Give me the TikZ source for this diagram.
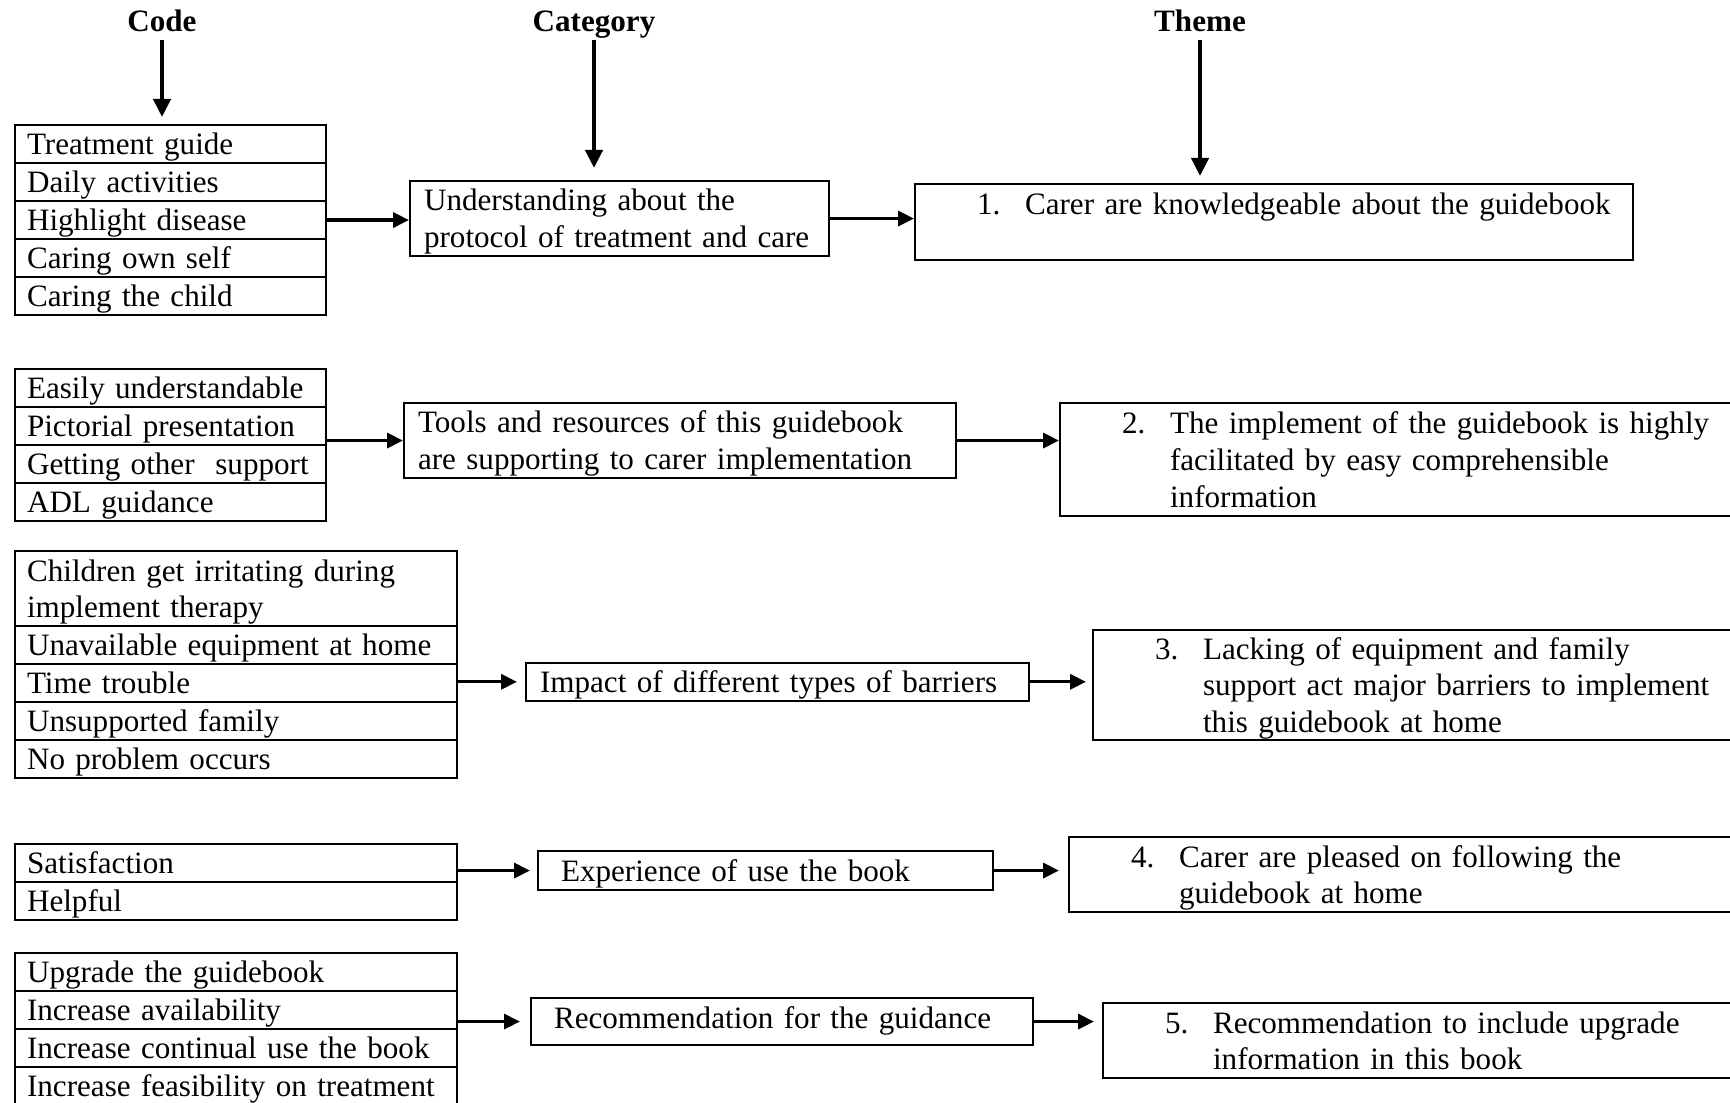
\documentclass[tikz,border=0pt]{standalone}
\usepackage{fontspec}
\setmainfont{Liberation Serif}
\usetikzlibrary{arrows.meta}

\newcommand{\themenum}[1]{\hspace*{0.52cm}\makebox[0.48cm][l]{#1}}
\newcommand{\themeind}{\hspace*{1cm}}

\begin{document}
\begin{tikzpicture}[
        font=\fontsize{8.85}{10.5}\selectfont,
        head/.style={inner sep=0pt, text height=8.2pt, text depth=2pt, font=\fontsize{8.85}{10.5}\selectfont\bfseries},
        box/.style={rectangle, draw, line width=0.6pt, anchor=north west, align=left, inner ysep=0pt, text height=8.2pt, text depth=2pt},
        twolines/.style={text depth=12.5pt},
        threelines/.style={text depth=23pt},
        code/.style={box, inner xsep=0.12cm, text width=2.87cm, minimum height=0.38cm},
        longcode/.style={code, text width=4.18cm},
        cat/.style={box, inner xsep=0.14cm},
        theme/.style={box, inner xsep=0.1cm, text width=7.3cm},
        arrow/.style={-{Triangle[length=0.16cm, width=0.15cm]}, line width=0.9pt},
        headarrow/.style={-{Triangle[length=0.18cm, width=0.17cm]}, line width=1.2pt}
    ]
        \useasboundingbox (0,0) rectangle (17.30,11.02);
        \clip (0,0) rectangle (17.30,11.02);

        % Headings
        \node[head] (code) at (1.62, 10.81) {Code};
        \node[head] (category) at (5.94, 10.81) {Category};
        \node[head] (theme) at (12.00, 10.81) {Theme};

        % Group 1
        \node[code] (c1a) at (0.14, 9.78) {Treatment guide};
        \node[code] (c1b) at (0.14, 9.40) {Daily activities};
        \node[code] (c1c) at (0.14, 9.02) {Highlight disease};
        \node[code] (c1d) at (0.14, 8.64) {Caring own self};
        \node[code] (c1e) at (0.14, 8.26) {Caring the child};
        \node[cat, twolines, text width=3.91cm, minimum height=0.75cm] (cat1) at (4.09, 9.22) {Understanding about the\\protocol of treatment and care};
        \node[theme, twolines, text width=6.98cm, minimum height=0.76cm] (th1) at (9.14, 9.19) {\themenum{1.}Carer are knowledgeable about the guidebook};

        % Group 2
        \node[code] (c2a) at (0.14, 7.34) {Easily understandable};
        \node[code] (c2b) at (0.14, 6.96) {Pictorial presentation};
        \node[code] (c2c) at (0.14, 6.58) {Getting other~ support};
        \node[code] (c2d) at (0.14, 6.20) {ADL guidance};
        \node[cat, twolines, text width=5.24cm, minimum height=0.75cm] (cat2) at (4.03, 7.00) {Tools and resources of this guidebook\\are supporting to carer implementation};
        \node[theme, threelines, minimum height=1.125cm] (th2) at (10.59, 7.00) {\themenum{2.}The implement of the guidebook is highly\\\themeind facilitated by easy comprehensible\\\themeind information};

        % Group 3
        \node[longcode, twolines, minimum height=0.75cm] (c3a) at (0.14, 5.52) {Children get irritating during\\implement therapy};
        \node[longcode] (c3b) at (0.14, 4.77) {Unavailable equipment at home};
        \node[longcode] (c3c) at (0.14, 4.39) {Time trouble};
        \node[longcode] (c3d) at (0.14, 4.01) {Unsupported family};
        \node[longcode] (c3e) at (0.14, 3.63) {No problem occurs};
        \node[cat, text width=4.75cm, minimum height=0.375cm] (cat3) at (5.25, 4.40) {Impact of different types of barriers};
        \node[theme, threelines, minimum height=1.10cm] (th3) at (10.92, 4.73) {\themenum{3.}Lacking of equipment and family\\\themeind support act major barriers to implement\\\themeind this guidebook at home};

        % Group 4
        \node[longcode] (c4a) at (0.14, 2.59) {Satisfaction};
        \node[longcode] (c4b) at (0.14, 2.21) {Helpful};
        \node[cat, inner xsep=0.23cm, text width=4.09cm, minimum height=0.39cm] (cat4) at (5.37, 2.52) {Experience of use the book};
        \node[theme, twolines, minimum height=0.75cm] (th4) at (10.68, 2.66) {\themenum{4.}Carer are pleased on following the\\\themeind guidebook at home};

        % Group 5
        \node[longcode] (c5a) at (0.14, 1.50) {Upgrade the guidebook};
        \node[longcode] (c5b) at (0.14, 1.12) {Increase availability};
        \node[longcode] (c5c) at (0.14, 0.74) {Increase continual use the book};
        \node[longcode] (c5d) at (0.14, 0.36) {Increase feasibility on treatment};
        \node[cat, inner xsep=0.23cm, text width=4.56cm, minimum height=0.47cm, text depth=4.5pt] (cat5) at (5.30, 1.05) {Recommendation for the guidance};
        \node[theme, twolines, minimum height=0.75cm] (th5) at (11.02, 1.00) {\themenum{5.}Recommendation to include upgrade\\\themeind information in this book};

        % Heading arrows
        \draw[headarrow, shorten >=0.07cm] (code) -- (code |- c1a.north);
        \draw[headarrow, shorten >=0.12cm] (category) -- (category |- cat1.north);
        \draw[headarrow, shorten >=0.07cm] (theme) -- (theme |- th1.north);

        % Codes to categories
        \draw[arrow] (c1c.east) -- (c1c.east -| cat1.west);
        \draw[arrow] (cat2.west -| c2a.east) -- (cat2.west);
        \draw[arrow, shorten >=0.08cm] (cat3.west -| c3a.east) -- (cat3.west);
        \draw[arrow, shorten >=0.07cm] (cat4.west -| c4a.east) -- (cat4.west);
        \draw[arrow, shorten >=0.1cm] (cat5.west -| c5a.east) -- (cat5.west);

        % Categories to themes
        \draw[arrow] (cat1) -- (cat1 -| th1.west);
        \draw[arrow] (cat2) -- (cat2 -| th2.west);
        \draw[arrow, shorten >=0.06cm] (cat3) -- (cat3 -| th3.west);
        \draw[arrow, shorten >=0.09cm] (cat4) -- (cat4 -| th4.west);
        \draw[arrow, shorten >=0.08cm] (cat5) -- (cat5 -| th5.west);
    \end{tikzpicture}
\end{document}
